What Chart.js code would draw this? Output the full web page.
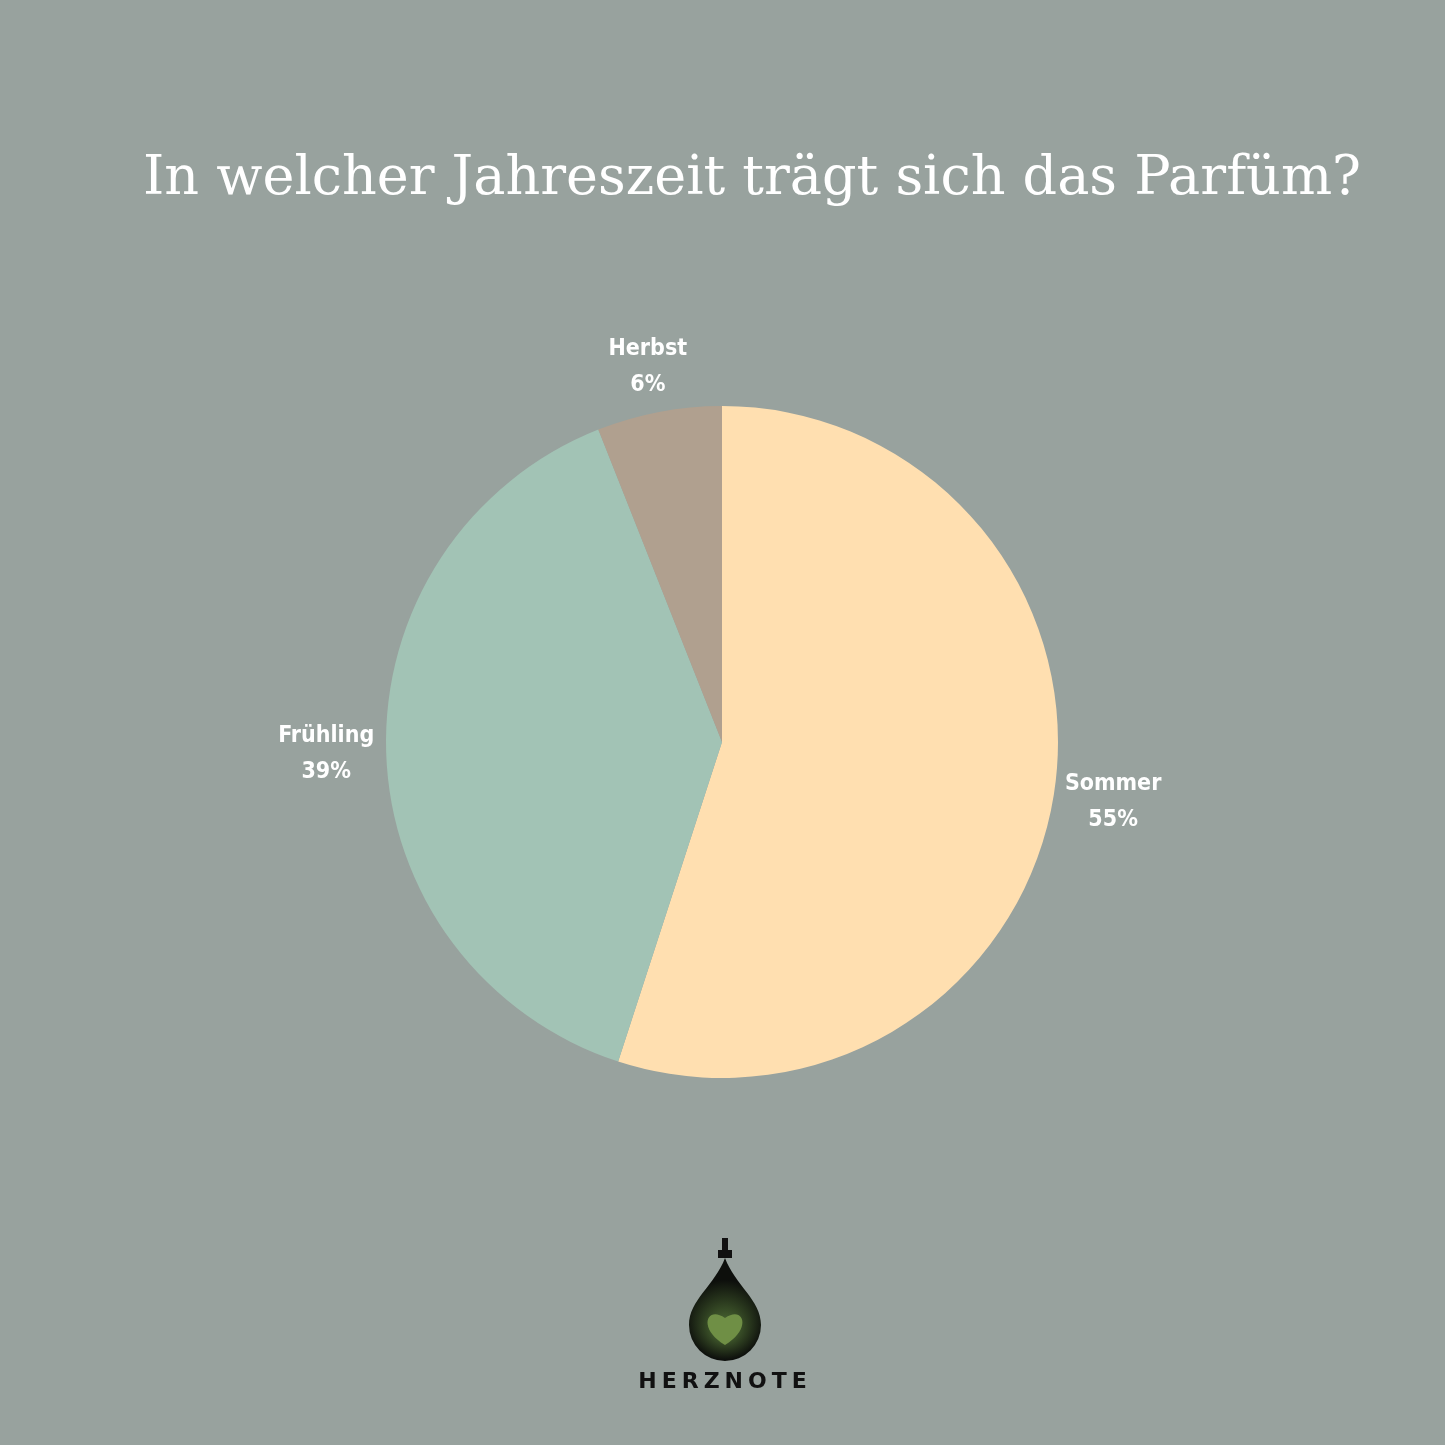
<!DOCTYPE html>
<html>
<head>
<meta charset="utf-8">
<script src="https://cdn.jsdelivr.net/npm/chart.js@4"></script>
<style>
  html, body { margin: 0; padding: 0; background: #98a29e; }
  #wrap { position: relative; width: 1445px; height: 1445px; }
  #title { position: absolute; top: 144px; left: 0; width: 1504px; text-align: center;
    font-family: "DejaVu Serif", "Liberation Serif", serif; font-size: 54px; color: #fff; }
  #brand { position: absolute; top: 1368px; left: 0; width: 1450px; text-align: center;
    font-family: "DejaVu Sans", sans-serif; font-weight: bold; font-size: 22px; letter-spacing: 5px; color: #111; }
  #chart { position: absolute; top: 0; left: 0; }
</style>
</head>
<body>
<div id="wrap">
  <div id="title">In welcher Jahreszeit trägt sich das Parfüm?</div>
  <canvas id="chart" width="1445" height="1445"></canvas>
  <div id="brand">HERZNOTE</div>
</div>
<script>
var seasons = ["Sommer", "Frühling", "Herbst"];
var shares = [55, 39, 6];
var sliceColors = ["#ffdfb0", "#a2c3b5", "#b0a08f"];

var outsideLabels = {
    id: 'outsideLabels',
    afterDatasetsDraw: function (chart) {
        var ctx = chart.ctx;
        var arcs = chart.getDatasetMeta(0).data;
        ctx.save();
        ctx.fillStyle = '#fff';
        ctx.font = 'bold 23px "DejaVu Sans Condensed", "DejaVu Sans", sans-serif';
        ctx.textAlign = 'center';
        ctx.textBaseline = 'middle';
        arcs.forEach(function (arc, i) {
            var mid = (arc.startAngle + arc.endAngle) / 2;
            var x = arc.x + Math.cos(mid) * (arc.outerRadius + 60);
            var y = arc.y + Math.sin(mid) * (arc.outerRadius + 46);
            ctx.fillText(seasons[i], x, y - 18);
            ctx.fillText(shares[i] + '%', x, y + 18);
        });
        ctx.restore();
    }
};

var logo = {
    id: 'logo',
    afterDraw: function (chart) {
        var ctx = chart.ctx;
        var cx = 725;
        ctx.save();
        ctx.fillStyle = '#111';
        ctx.fillRect(cx - 3, 1238, 6, 12);
        ctx.fillRect(cx - 7, 1250, 14, 8);
        var g = ctx.createRadialGradient(cx, 1330, 5, cx, 1320, 40);
        g.addColorStop(0, '#4c6a33');
        g.addColorStop(1, '#0d0f0c');
        ctx.fillStyle = g;
        ctx.beginPath();
        ctx.moveTo(cx, 1258);
        ctx.bezierCurveTo(cx + 10, 1285, cx + 36, 1300, cx + 36, 1325);
        ctx.arc(cx, 1325, 36, 0, Math.PI);
        ctx.bezierCurveTo(cx - 36, 1300, cx - 10, 1285, cx, 1258);
        ctx.fill();
        ctx.fillStyle = '#6f8f45';
        ctx.beginPath();
        ctx.moveTo(cx, 1345);
        ctx.bezierCurveTo(cx - 28, 1328, cx - 18, 1305, cx, 1318);
        ctx.bezierCurveTo(cx + 18, 1305, cx + 28, 1328, cx, 1345);
        ctx.fill();
        ctx.restore();
    }
};

new Chart(document.getElementById('chart'), {
    type: 'pie',
    data: {
        labels: seasons,
        datasets: [{ data: shares, backgroundColor: sliceColors, borderWidth: 0 }]
    },
    options: {
        responsive: false,
        animation: false,
        layout: { padding: { top: 406, bottom: 367, left: 386, right: 387 } },
        plugins: { legend: { display: false }, tooltip: { enabled: false } }
    },
    plugins: [outsideLabels, logo]
});
</script>
</body>
</html>
